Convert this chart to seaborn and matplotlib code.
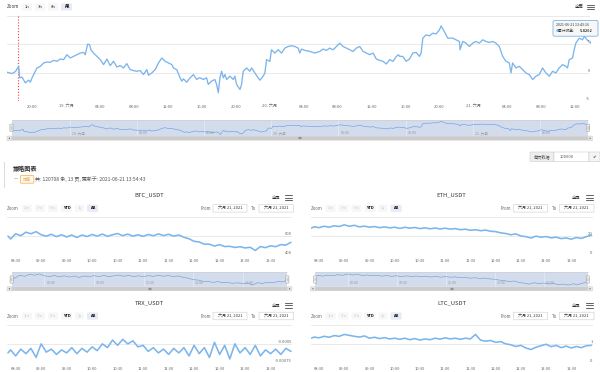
import matplotlib
matplotlib.use("Agg")
import matplotlib.pyplot as plt
import matplotlib.transforms as mtransforms
from matplotlib.patches import FancyBboxPatch, Polygon
from matplotlib.lines import Line2D
import numpy as np
import pandas as pd
import seaborn as sns

# ---------------- data ----------------
# main chart: hours since 2021-06-18 00:00, cumulative return
main_hours = [17.05, 17.64, 18.04, 18.43, 18.55, 18.82, 19.21, 19.60, 19.80, 20.00, 20.39, 20.58, 20.98,
              21.37, 21.76, 22.15, 22.55, 22.94, 23.33, 23.72, 24.11, 24.51, 24.90, 25.29, 25.68, 26.07,
              26.27, 26.55, 26.79, 26.94, 27.25, 27.64, 28.04, 28.43, 28.82, 29.21, 29.60, 30.00, 30.39,
              30.78, 31.17, 31.56, 31.96, 32.35, 32.74, 33.13, 33.53, 33.72, 34.11, 34.51, 34.90, 35.29,
              35.68, 36.07, 36.47, 36.66, 37.05, 37.45, 37.65, 37.84, 38.23, 38.62, 39.02, 39.41, 39.68,
              39.79, 40.18, 40.57, 40.77, 41.16, 41.55, 41.75, 41.95, 42.14, 42.34, 42.54, 42.73, 42.93,
              43.32, 43.71, 43.91, 44.10, 44.50, 44.69, 44.89, 45.28, 45.67, 45.87, 46.26, 46.65, 46.85,
              47.24, 47.44, 47.63, 48.03, 48.22, 48.61, 49.01, 49.40, 49.79, 50.18, 50.57, 50.97, 51.36,
              51.55, 51.75, 52.14, 52.73, 53.32, 53.91, 54.30, 54.69, 55.08, 55.48, 55.87, 56.26, 56.65,
              57.05, 57.44, 57.83, 58.22, 58.61, 59.01, 59.40, 59.79, 60.18, 60.57, 60.97, 61.36, 61.75,
              62.14, 62.54, 62.93, 63.20, 63.30, 63.69, 64.08, 64.48, 64.87, 65.26, 65.65, 65.85, 66.05,
              66.44, 66.83, 67.22, 67.61, 68.01, 68.20, 68.59, 68.99, 69.57, 69.97, 70.36, 70.44, 70.75,
              71.14, 71.54, 71.93, 72.32, 72.71, 73.10, 73.50, 73.89, 74.28, 74.67, 75.06, 75.46, 75.85,
              76.24, 76.44, 76.63, 77.03, 77.42, 77.81, 78.20, 78.59, 78.99, 79.38, 79.77, 80.16, 80.55,
              80.95, 81.34, 81.73, 82.12, 82.52, 82.91, 83.10, 83.30, 83.69, 83.89, 84.08, 84.48, 84.87,
              85.06, 85.26, 85.46, 85.72]
main_values = [0.06, -0.17, 0.17, 1.10, -0.93, -0.81, -1.80, -1.34, -1.69, -0.93, 0.23, 0.81, 1.10,
               1.69, 1.86, 1.80, 2.15, 1.98, 2.38, 2.27, 3.14, 2.56, 2.85, 3.14, 3.43, 3.55,
               3.14, 5.00, 4.88, 4.01, 3.43, 2.85, 2.27, 1.40, 2.38, 1.22, 1.98, 0.99, 1.22,
               0.81, 1.57, 0.52, 0.35, 0.23, 0.35, -0.35, 0.52, -0.47, -0.06, 0.52, 1.69, 2.56,
               1.98, 1.69, 1.40, 0.81, 0.52, -0.93, -1.51, -1.10, -1.69, -0.93, -0.35, -1.22, -0.93,
               -0.93, -1.22, -0.93, -2.09, -1.51, -1.22, -2.09, -3.55, -0.93, 0.23, -0.93, -0.35, -1.22,
               -0.64, -1.22, -0.64, -2.09, -2.97, -2.09, 0.23, 0.81, 0.23, 0.81, -0.06, -0.93, -1.34,
               -0.64, -0.06, 2.27, 1.98, 4.01, 3.43, 4.01, 3.43, 4.30, 4.59, 4.71, 4.59, 4.30,
               3.43, 4.13, 3.90, 3.72, 3.43, 3.72, 4.13, 3.90, 4.30, 4.01, 4.59, 5.17, 4.59,
               4.30, 4.01, 3.72, 4.30, 4.59, 3.72, 3.43, 3.14, 3.43, 2.38, 2.15, 1.98, 1.51,
               2.27, 1.98, 2.85, 3.14, 2.85, 2.85, 1.98, 2.38, 3.43, 3.55, 2.85, 3.43, 6.05,
               6.63, 6.45, 6.92, 6.80, 7.50, 8.20, 7.21, 6.05, 6.05, 5.76, 5.47, 4.01, 5.47,
               5.17, 4.59, 5.17, 5.47, 5.17, 5.76, 5.47, 5.29, 5.47, 5.17, 4.59, 2.85, 1.98,
               1.69, -0.06, 1.69, 0.81, 1.10, 0.52, -0.06, -0.35, -1.22, -0.64, -0.35, 0.81, -0.06,
               -0.64, 0.23, -0.06, 0.81, 1.40, 1.10, 0.81, 2.27, 2.56, 4.01, 5.17, 6.05, 5.76,
               6.34, 6.05, 5.64, 5.4262]
marker_hour = 18.31
tooltip_time = "2021-06-21 13:43:16"
tooltip_label = "累计收益: "
tooltip_value = "5.4262"
main_ygrid = [-5, 0, 5, 10]
main_ylabels = ["-5", "0", "5", ""]
main_xtick_hours = [20, 24, 28, 32, 36, 40, 44, 48, 52, 56, 60, 64, 68, 72, 76, 80, 84]
main_xtick_labels = ["20:00", "19. 六月", "04:00", "08:00", "12:00", "16:00", "20:00", "20. 六月",
                     "04:00", "08:00", "12:00", "16:00", "20:00", "21. 六月", "04:00", "08:00", "12:00"]
main_nav_hours = [24, 32, 40, 48, 56, 64, 72, 80]
main_nav_labels = ["19. 六月", "08:00", "16:00", "20. 六月", "08:00", "16:00", "21. 六月", "08:00"]
main_zoom_buttons = ["1h", "3h", "8h", "All"]

# sub charts: hour of day on 2021-06-21
sub_hours = [8.35, 8.4, 8.5, 8.6, 8.7, 8.8, 8.9,
             9.0, 9.1, 9.2, 9.3, 9.4, 9.5, 9.6, 9.7, 9.8, 9.9,
             10.0, 10.1, 10.2, 10.3, 10.4, 10.5, 10.6, 10.7, 10.8, 10.9,
             11.0, 11.1, 11.2, 11.3, 11.4, 11.5, 11.6, 11.7, 11.8, 11.9,
             12.0, 12.1, 12.2, 12.3, 12.4, 12.5, 12.6, 12.7, 12.8, 12.9,
             13.0, 13.1, 13.2, 13.3, 13.4, 13.5, 13.6, 13.7, 13.8, 13.9]
btc_values = [600, 570, 625, 605, 642, 625, 648,
              615, 600, 620, 595, 615, 592, 612, 585, 612, 596,
              618, 600, 622, 598, 615, 628, 605, 622, 600, 615,
              598, 618, 604, 624, 606, 620, 600, 612, 588, 572,
              545, 538, 515, 515, 495, 510, 490, 492, 480, 488,
              475, 482, 448, 490, 478, 498, 488, 510, 505, 535]
eth_values = [28.5, 30.0, 29.0, 30.5, 29.5, 31.0, 30.2,
              32.0, 30.5, 31.5, 29.8, 30.6, 29.5, 30.2, 29.0, 29.8, 28.8,
              29.5, 28.2, 29.4, 28.5, 29.2, 28.0, 28.8, 27.8, 28.6, 27.6,
              28.4, 27.5, 28.0, 26.8, 27.4, 26.2, 26.8, 25.8, 26.4, 25.2,
              24.8, 23.5, 22.8, 21.5, 22.4, 20.2, 19.5, 18.0, 20.0, 18.8,
              19.6, 18.2, 18.9, 17.4, 18.1, 16.8, 18.5, 17.6, 19.5, 21.0]
trx_values = [-0.00062, -0.00058, -0.00066, -0.00057, -0.00063, -0.00056, -0.00068,
              -0.00050, -0.00061, -0.00057, -0.00064, -0.00058, -0.00062, -0.00055, -0.00063, -0.00056, -0.00061,
              -0.00054, -0.00059, -0.00050, -0.00055, -0.00045, -0.00052, -0.00044, -0.00050, -0.00046, -0.00054,
              -0.00052, -0.00060, -0.00055, -0.00062, -0.00057, -0.00064, -0.00056, -0.00062, -0.00055, -0.00066,
              -0.00052, -0.00063, -0.00055, -0.00068, -0.00048, -0.00064, -0.00052, -0.00070, -0.00050, -0.00062,
              -0.00055, -0.00064, -0.00052, -0.00066, -0.00058, -0.00063, -0.00057, -0.00064, -0.00056, -0.00060]
ltc_values = [1.30, 1.36, 1.32, 1.40, 1.35, 1.44, 1.40,
              1.50, 1.45, 1.40, 1.36, 1.42, 1.30, 1.35, 1.28, 1.33, 1.26,
              1.30, 1.24, 1.30, 1.22, 1.28, 1.20, 1.26, 1.22, 1.30, 1.25,
              1.32, 1.26, 1.30, 1.24, 1.30, 1.26, 1.50, 1.20, 1.14, 1.18,
              1.08, 1.12, 1.00, 0.95, 0.86, 0.92, 0.78, 0.70, 0.82, 0.90,
              0.98, 0.85, 0.92, 0.80, 0.88, 0.78, 0.86, 0.80, 0.90, 0.92]
sub_xtick_hours = [8.5, 9.0, 9.5, 10.0, 10.5, 11.0, 11.5, 12.0, 12.5, 13.0, 13.5]
sub_xtick_labels = ["08:30", "09:00", "09:30", "10:00", "10:30", "11:00", "11:30", "12:00", "12:30", "13:00", "13:30"]
sub_nav_hours = [9, 10, 11, 12, 13]
sub_nav_labels = ["09:00", "10:00", "11:00", "12:00", "13:00"]
sub_zoom_buttons = ["1m", "3m", "6m", "YTD", "1y", "All"]
sub_zoom_states = ["off", "off", "off", "on", "off", "sel"]
date_label = "六月 21, 2021"

btc_ygrid, btc_ylabels = [400, 600, 800], ["400", "600", ""]
eth_ygrid, eth_ylabels = [0, 20, 40], ["0", "20", ""]
trx_ygrid, trx_ylabels = [-0.00075, -0.0005, -0.00025], ["-0.00075", "-0.0005", ""]
ltc_ygrid, ltc_ylabels = [0, 1, 2], ["0", "1", ""]

section_title = "策略图表"
section_button = "隐藏"
section_info = "共: 120708 条, 13 页, 更新于: 2021-06-21 13:54:43"
page_label = "每页数据"
page_value = "100000"

# ---------------- style ----------------
sns.set_theme(style="white")
plt.rcParams['font.family'] = ['Noto Sans CJK SC', 'DejaVu Sans']
plt.rcParams['axes.unicode_minus'] = False

W, H = 600, 372
fig = plt.figure(figsize=(6, 3.72), dpi=100, facecolor='white')
PX = mtransforms.Affine2D().scale(1 / W, -1 / H).translate(0, 1) + fig.transFigure

LINE = '#7cb5ec'
GRID = '#e6e6e6'
LAB = '#666666'


def add_ax(x0, y0, x1, y1):
    a = fig.add_axes([x0 / W, 1 - y1 / H, (x1 - x0) / W, (y1 - y0) / H])
    a.set_facecolor('none')
    for s in a.spines.values():
        s.set_visible(False)
    return a


def rbox(x0, y0, x1, y1, fc, ec='none', lw=0.4, r=1.2, z=3):
    p = FancyBboxPatch((x0, y0), x1 - x0, y1 - y0, boxstyle=f"round,pad=0,rounding_size={r}",
                       transform=PX, fc=fc, ec=ec, lw=lw, zorder=z)
    fig.add_artist(p)


def txt(x, y, s, size=3.2, color='#333333', ha='left', va='center', weight='normal', z=5):
    fig.text(x, y, s, transform=PX, fontsize=size, color=color, ha=ha, va=va,
             fontweight=weight, zorder=z)


def hline(x0, x1, y, color, lw=0.6, z=4):
    fig.add_artist(Line2D([x0, x1], [y, y], transform=PX, color=color, lw=lw, zorder=z))


def vline(x, y0, y1, color, lw=0.4, z=4):
    fig.add_artist(Line2D([x, x], [y0, y1], transform=PX, color=color, lw=lw, zorder=z))


def hamburger(x0, x1, yc):
    for dy in (-2.2, 0, 2.2):
        hline(x0, x1, yc + dy, '#666666', lw=0.75)


def right_labels(ax, ygrid, ylabels):
    tr = mtransforms.blended_transform_factory(ax.transAxes, ax.transData)
    for v, lab in zip(ygrid, ylabels):
        if lab:
            ax.text(1.0, v, lab, transform=tr, ha='right', va='bottom', fontsize=3, color=LAB)


def navigator(x0, x1, y0, y1, hours, values, xlim, ylim, tick_hours, tick_labels):
    nav = add_ax(x0, y0, x1, y1)
    nav.set_facecolor('#d3dcec')
    nav.set_axisbelow(True)
    sns.lineplot(x=hours, y=values, ax=nav, color='#6d9fde', lw=0.45, estimator=None)
    nav.set_xlim(*xlim)
    nav.set_ylim(*ylim)
    nav.set_xticks(tick_hours)
    nav.set_yticks([])
    nav.grid(axis='x', color='#e8ecf4', lw=0.5)
    nav.tick_params(length=0, labelbottom=False, labelleft=False)
    nav.set_xlabel('')
    nav.set_ylabel('')
    tr = mtransforms.offset_copy(mtransforms.blended_transform_factory(nav.transData, nav.transAxes),
                                 fig=fig, x=2, y=1.2, units='dots')
    for h, lab in zip(tick_hours, tick_labels):
        nav.text(h, 0, lab, transform=tr, ha='left', va='bottom', fontsize=2.6, color='#999999')
    hline(x0, x1, y0, '#cccccc', lw=0.4)
    ym = (y0 + y1) / 2
    for xh in (x0, x1):
        rbox(xh - 1.6, ym - 3.6, xh + 1.6, ym + 3.6, fc='#f2f2f2', ec='#999999', lw=0.35, r=0.5, z=6)
        vline(xh - 0.5, ym - 1.8, ym + 1.8, '#999999', lw=0.3, z=7)
        vline(xh + 0.5, ym - 1.8, ym + 1.8, '#999999', lw=0.3, z=7)


def scrollbar(xl, xr, x0, x1, y0, y1):
    rbox(xl, y0, xr, y1, fc='#f2f2f2', r=0.3)
    rbox(x0, y0 + 0.2, x1, y1 - 0.2, fc='#cccccc', r=0.8)
    rbox(xl, y0, x0, y1, fc='#e6e6e6', ec='#cccccc', lw=0.3, r=0.3)
    rbox(x1, y0, xr, y1, fc='#e6e6e6', ec='#cccccc', lw=0.3, r=0.3)
    ym = (y0 + y1) / 2
    cl = (xl + x0) / 2
    cr = (x1 + xr) / 2
    fig.add_artist(Polygon([[cl - 0.7, ym], [cl + 0.5, ym - 0.8], [cl + 0.5, ym + 0.8]], closed=True,
                           transform=PX, fc='#333333', ec='none', zorder=5))
    fig.add_artist(Polygon([[cr + 0.7, ym], [cr - 0.5, ym - 0.8], [cr - 0.5, ym + 0.8]], closed=True,
                           transform=PX, fc='#333333', ec='none', zorder=5))
    xc = (x0 + x1) / 2
    for dx in (-1, 0, 1):
        vline(xc + dx, ym - 1.0, ym + 1.0, '#333333', lw=0.3, z=5)


# ---------------- main chart ----------------
txt(7, 7, "Zoom", size=3.2, color='#333333')
for (bx0, bx1), lab in zip([(22, 32), (35, 45), (48, 58), (61, 72)], main_zoom_buttons):
    sel = lab == "All"
    rbox(bx0, 3.3, bx1, 10.5, fc='#e6ebf5' if sel else '#f7f7f7')
    txt((bx0 + bx1) / 2, 7, lab, size=3.0, color='#000000' if sel else '#333333', ha='center',
        weight='bold' if sel else 'normal')
txt(579, 7, "全屏", size=3.2, color='#333333', ha='center')
hamburger(587, 594, 7)

main_df = pd.DataFrame({'hour': main_hours, 'value': main_values})
ax = add_ax(7, 15.7, 590, 101)
ax.set_axisbelow(True)
ax.set_xlim(17.05, 85.75)
ax.set_ylim(-5, 10)
ax.set_yticks(main_ygrid)
ax.grid(axis='y', color=GRID, lw=0.6)
ax.grid(axis='x', visible=False)
ax.tick_params(axis='y', left=False, labelleft=False)
ax.axvline(marker_hour, color='#ff3b3b', lw=0.8, ls=(0, (1.0, 1.6)))
sns.lineplot(data=main_df, x='hour', y='value', ax=ax, color=LINE, lw=0.95, estimator=None)
sns.scatterplot(x=[main_hours[-1]], y=[main_values[-1]], ax=ax, color=LINE, s=5, edgecolor='white',
                linewidth=0.4, zorder=5)
ax.set_xticks(main_xtick_hours)
ax.set_xticklabels(main_xtick_labels)
ax.tick_params(axis='x', length=0, pad=2.6, labelsize=3, labelcolor=LAB)
ax.set_xlabel('')
ax.set_ylabel('')
right_labels(ax, main_ygrid, main_ylabels)

# tooltip
rbox(553, 20.5, 598, 36.2, fc='#f7f7f7', ec=LINE, lw=0.6, r=1.5, z=8)
txt(556, 25.2, tooltip_time, size=2.6, color='#333333', z=9)
txt(555.5, 31.3, "●", size=2.4, color=LINE, z=9)
txt(558.5, 31.3, tooltip_label, size=2.7, color='#333333', z=9)
txt(580, 31.3, tooltip_value, size=2.8, color='#333333', weight='bold', z=9)

# main navigator + scrollbar
navigator(11.5, 588, 119.5, 136, main_hours, main_values, (17.05, 85.72), (-4.8, 9.8),
          main_nav_hours, main_nav_labels)
scrollbar(7, 592.5, 11.5, 588, 136, 140.6)

# ---------------- section header ----------------
vline(4, 161.5, 186.5, '#dddddd', lw=0.8)
txt(12.7, 169, section_title, size=4.4, color='#333333', weight='bold')
txt(13.3, 179.2, "—", size=3.2, color='#666666')
rbox(20.4, 175.4, 33.8, 183.2, fc='#fff8ee', ec='#f0ad4e', lw=0.5, r=1.0)
txt(27.1, 179.3, section_button, size=3.0, color='#f0ad4e', ha='center')
txt(35.4, 179.2, section_info, size=3.6, color='#555555')

rbox(530, 152, 554, 161.5, fc='#eeeeee', ec='#cccccc', lw=0.4, r=0.8)
txt(542, 156.8, page_label, size=3.0, color='#555555', ha='center')
rbox(554, 152, 589, 161.5, fc='#ffffff', ec='#cccccc', lw=0.4, r=0.3)
txt(560, 156.8, page_value, size=3.0, color='#555555')
rbox(589, 152, 600, 161.5, fc='#f5f5f5', ec='#cccccc', lw=0.4, r=0.8)
txt(594.5, 156.8, "✔", size=3.2, color='#333333', ha='center')

# ---------------- sub charts ----------------
charts = [
    dict(title="BTC_USDT", values=btc_values, L=7, R=292, ry=195, ylim=(400, 800),
         grid=btc_ygrid, labels=btc_ylabels, nav=True),
    dict(title="ETH_USDT", values=eth_values, L=310.5, R=592.5, ry=195, ylim=(0, 40),
         grid=eth_ygrid, labels=eth_ylabels, nav=True),
    dict(title="TRX_USDT", values=trx_values, L=7, R=292, ry=302.7, ylim=(-0.00075, -0.00025),
         grid=trx_ygrid, labels=trx_ylabels, nav=False),
    dict(title="LTC_USDT", values=ltc_values, L=310.5, R=592.5, ry=302.7, ylim=(0, 2),
         grid=ltc_ygrid, labels=ltc_ylabels, nav=False),
]
btn_offsets = [(15, 25), (28, 38), (41, 51), (54, 65), (68, 77), (80, 91)]
xlim_sub = (8.33, 13.92)

for c in charts:
    L, R, ry = c['L'], c['R'], c['ry']
    txt((L + R) / 2, ry, c['title'], size=4.2, color='#333333', ha='center')
    txt(R - 16, ry + 2.8, "全屏", size=3.1, color='#333333', ha='center')
    hamburger(R - 7, R, ry + 2.6)
    zy = ry + 13.3
    txt(L, zy, "Zoom", size=3.1, color='#666666')
    for (o0, o1), lab, st in zip(btn_offsets, sub_zoom_buttons, sub_zoom_states):
        fc = '#e6ebf5' if st == 'sel' else '#f7f7f7'
        rbox(L + o0, zy - 3.6, L + o1, zy + 3.6, fc=fc)
        col = '#cccccc' if st == 'off' else '#000000'
        wt = 'normal' if st == 'off' else 'bold'
        txt(L + (o0 + o1) / 2, zy, lab, size=2.9, color=col, ha='center', weight=wt)
    txt(R - 81, zy, "From", size=3.1, color='#666666', ha='right')
    rbox(R - 79, zy - 3.8, R - 45, zy + 3.8, fc='#ffffff', ec='#cccccc', lw=0.4, r=0.3)
    txt(R - 62, zy, date_label, size=2.9, color='#333333', ha='center')
    txt(R - 38.5, zy, "To", size=3.1, color='#666666', ha='center')
    rbox(R - 33, zy - 3.8, R + 1.5, zy + 3.8, fc='#ffffff', ec='#cccccc', lw=0.4, r=0.3)
    txt(R - 15.75, zy, date_label, size=2.9, color='#333333', ha='center')

    a = add_ax(L, ry + 22.3, R, ry + 60)
    a.set_axisbelow(True)
    a.set_xlim(*xlim_sub)
    a.set_ylim(*c['ylim'])
    a.set_yticks(c['grid'])
    a.grid(axis='y', color=GRID, lw=0.6)
    a.grid(axis='x', visible=False)
    a.tick_params(axis='y', left=False, labelleft=False)
    sns.lineplot(x=sub_hours, y=c['values'], ax=a, color=LINE, lw=1.15, estimator=None)
    a.set_xticks(sub_xtick_hours)
    a.set_xticklabels(sub_xtick_labels)
    a.tick_params(axis='x', length=0, pad=2.8, labelsize=2.9, labelcolor=LAB)
    a.set_xlabel('')
    a.set_ylabel('')
    right_labels(a, c['grid'], c['labels'])

    if c['nav']:
        lo, hi = min(c['values']), max(c['values'])
        pad = (hi - lo) * 0.15
        navigator(L + 4.7, R - 4.7, ry + 77.3, ry + 91.7, sub_hours, c['values'], (8.34, 13.9),
                  (lo - pad, hi + pad), sub_nav_hours, sub_nav_labels)
        scrollbar(L, R, L + 4.7, R - 4.7, ry + 91.7, ry + 96)

fig.savefig("out.png", dpi=100, facecolor='white')
